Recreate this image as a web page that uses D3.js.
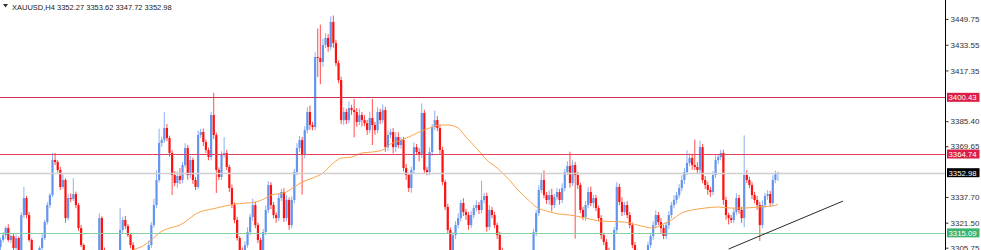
<!DOCTYPE html>
<html>
<head>
<meta charset="utf-8">
<script src="https://cdn.jsdelivr.net/npm/d3@7"></script>
<style>
  html, body { margin: 0; padding: 0; background: #fff; }
  svg { display: block; font-family: "Liberation Sans", Arial, sans-serif; }
</style>
</head>
<body>
<svg id="chart" width="981" height="250"></svg>
<script>
// ---- data ----
var symbol = "XAUUSD,H4";
var firstOpen = 3306.0;

// closing price of every H4 bar (open = previous close)
var closes = [
  3310.6, 3313.7, 3318.1, 3310.6, 3313.1, 3305.5, 3311.8, 3301.1, 3326.3, 3337.0,
  3326.3, 3310.6, 3298.0, 3296.7, 3299.2, 3305.5, 3311.8, 3321.9, 3332.6, 3338.9,
  3361.0, 3359.7, 3354.7, 3344.0, 3348.4, 3324.4, 3337.0, 3336.4, 3339.5, 3332.6,
  3318.1, 3307.4, 3299.2, 3296.7, 3301.1, 3294.8, 3298.0, 3301.1, 3324.4, 3304.3,
  3299.2, 3296.7, 3294.8, 3296.7, 3299.2, 3301.1, 3316.9, 3323.2, 3319.4, 3313.7,
  3307.4, 3303.0, 3299.2, 3296.7, 3294.8, 3296.7, 3299.2, 3307.4, 3320.0, 3332.6,
  3348.4, 3371.7, 3373.5, 3381.1, 3374.8, 3365.4, 3351.5, 3346.5, 3350.9, 3348.4,
  3357.8, 3368.5, 3351.5, 3361.0, 3348.4, 3344.0, 3376.7, 3378.6, 3372.3, 3367.3,
  3362.8, 3389.3, 3376.7, 3354.7, 3350.3, 3364.1, 3365.4, 3356.6, 3343.3, 3332.6,
  3323.2, 3311.8, 3304.3, 3296.7, 3307.4, 3315.6, 3325.1, 3332.6, 3320.0, 3310.6,
  3304.3, 3315.6, 3329.5, 3345.2, 3332.6, 3326.3, 3324.4, 3337.0, 3340.8, 3324.4,
  3335.8, 3320.0, 3335.8, 3353.4, 3368.5, 3373.5, 3364.1, 3379.8, 3391.2, 3383.0,
  3381.7, 3425.8, 3425.2, 3422.7, 3433.4, 3437.8, 3432.1, 3447.9, 3434.6, 3422.0,
  3411.3, 3386.1, 3391.2, 3386.1, 3393.7, 3392.4, 3391.2, 3384.9, 3389.3, 3386.1,
  3384.2, 3379.8, 3387.4, 3383.0, 3379.8, 3391.2, 3386.1, 3392.4, 3369.1, 3376.7,
  3378.6, 3369.1, 3375.4, 3370.4, 3373.5, 3355.9, 3351.5, 3343.3, 3354.7, 3369.1,
  3366.0, 3364.1, 3390.6, 3354.7, 3353.4, 3366.0, 3381.7, 3386.1, 3381.1, 3367.3,
  3347.1, 3331.4, 3316.9, 3301.1, 3313.7, 3320.0, 3324.4, 3333.9, 3328.2, 3326.3,
  3320.0, 3326.3, 3330.7, 3332.6, 3329.5, 3335.8, 3338.3, 3318.8, 3329.5, 3326.3,
  3320.0, 3313.7, 3304.3, 3294.8, 3292.9, 3290.4, 3294.8, 3291.7, 3288.5, 3292.9,
  3296.7, 3291.7, 3294.8, 3298.0, 3301.1, 3315.6, 3327.6, 3342.1, 3348.4, 3338.9,
  3335.8, 3338.9, 3332.6, 3337.6, 3340.8, 3335.8, 3343.3, 3353.4, 3357.2, 3346.5,
  3357.8, 3351.5, 3345.2, 3329.5, 3325.1, 3332.6, 3340.8, 3333.9, 3337.0, 3330.7,
  3324.4, 3313.7, 3309.3, 3304.3, 3299.2, 3296.7, 3316.9, 3344.0, 3334.5, 3328.2,
  3332.6, 3326.3, 3320.0, 3307.4, 3303.0, 3299.2, 3296.7, 3299.2, 3301.1, 3307.4,
  3313.1, 3320.0, 3326.3, 3321.9, 3318.1, 3313.1, 3320.0, 3326.3, 3332.6, 3335.8,
  3338.9, 3343.3, 3348.4, 3353.4, 3359.1, 3362.2, 3357.8, 3356.6, 3354.7, 3369.1,
  3348.4, 3345.2, 3342.1, 3340.8, 3351.5, 3361.0, 3362.8, 3365.4, 3335.8, 3326.3,
  3324.4, 3323.2, 3328.2, 3337.0, 3329.5, 3324.4, 3351.5, 3348.4, 3345.2, 3338.9,
  3335.8, 3332.6, 3320.0, 3332.6, 3338.3, 3339.5, 3333.9, 3348.4, 3352.27, 3352.98
];

// wick above the body / below the body, in price units
var upperWick = [
  1.5, 2.0, 1.2, 2.4, 1.0, 1.8, 2.2, 1.0, 1.6, 7.0,
  1.4, 2.0, 1.0, 1.6, 2.2, 1.2, 3.0, 1.5, 2.0, 1.4,
  4.4, 4.4, 1.2, 2.0, 3.5, 1.0, 2.4, 3.0, 10.0, 1.6,
  1.2, 2.0, 1.0, 1.4, 2.6, 1.0, 1.8, 2.0, 3.0, 1.2,
  1.6, 1.0, 2.0, 1.4, 1.8, 2.2, 14.0, 2.0, 2.5, 1.4,
  1.2, 1.8, 1.0, 1.4, 2.0, 1.6, 2.4, 3.0, 2.0, 4.0,
  6.0, 9.0, 2.0, 10.0, 2.5, 1.5, 1.8, 2.4, 3.0, 5.0,
  2.0, 3.0, 2.0, 2.5, 1.5, 2.0, 3.0, 2.0, 2.2, 1.6,
  1.5, 2.0, 14.0, 1.5, 1.6, 2.4, 10.0, 2.0, 1.4, 2.2,
  1.6, 2.0, 1.2, 1.6, 2.4, 3.0, 2.0, 4.0, 2.0, 1.6,
  1.4, 2.0, 3.0, 2.5, 1.8, 2.0, 1.6, 3.0, 2.0, 2.5,
  3.0, 1.6, 2.2, 2.0, 3.0, 2.5, 2.0, 2.4, 3.0, 4.0,
  2.0, 3.0, 18.0, 21.0, 4.0, 3.0, 2.5, 3.5, 4.0, 2.0,
  1.5, 2.0, 3.0, 2.0, 4.0, 2.0, 7.0, 2.5, 4.0, 2.0,
  3.0, 2.0, 4.0, 12.0, 2.0, 3.0, 2.0, 3.5, 2.0, 3.0,
  2.0, 2.5, 3.0, 3.0, 2.0, 2.0, 2.5, 1.5, 2.0, 3.0,
  2.0, 2.5, 6.0, 2.0, 2.0, 3.0, 2.0, 6.0, 2.5, 2.0,
  2.0, 1.5, 2.0, 1.5, 2.0, 2.5, 3.0, 2.0, 3.0, 2.0,
  2.0, 2.5, 2.0, 3.0, 2.0, 12.0, 2.0, 2.0, 3.0, 2.0,
  2.0, 1.5, 2.0, 1.5, 2.0, 2.0, 2.0, 1.5, 2.0, 2.0,
  2.0, 2.0, 2.0, 2.0, 2.5, 2.0, 2.0, 3.0, 4.0, 6.0,
  2.0, 3.0, 4.0, 2.0, 2.5, 2.0, 3.0, 2.0, 3.0, 9.0,
  3.0, 2.0, 2.0, 1.5, 2.0, 2.5, 3.0, 3.5, 2.0, 2.0,
  1.5, 2.0, 1.5, 2.0, 1.5, 2.0, 2.0, 3.0, 2.0, 3.0,
  2.0, 2.5, 2.0, 1.5, 2.0, 1.5, 2.0, 2.0, 1.5, 2.0,
  2.0, 2.5, 3.0, 2.0, 2.5, 2.0, 2.0, 2.5, 2.0, 3.0,
  2.0, 2.5, 3.0, 2.5, 8.0, 3.0, 2.0, 16.0, 3.0, 4.0,
  2.0, 2.5, 2.0, 2.0, 2.5, 3.0, 2.0, 2.0, 2.0, 2.0,
  1.5, 2.0, 2.5, 3.0, 2.0, 2.0, 25.0, 3.0, 2.0, 2.0,
  2.0, 2.5, 2.0, 3.0, 2.0, 2.5, 2.0, 3.0, 2.0, 0.64
];
var lowerWick = [
  2.0, 1.5, 2.4, 1.2, 2.0, 1.6, 1.0, 2.2, 1.4, 1.8,
  2.0, 1.2, 1.6, 2.4, 1.0, 1.8, 2.0, 1.2, 1.6, 2.0,
  1.4, 2.0, 1.6, 2.0, 1.2, 3.0, 1.6, 2.0, 1.4, 2.0,
  1.8, 1.2, 2.0, 1.6, 1.4, 2.2, 1.0, 1.8, 1.4, 2.0,
  1.2, 2.0, 1.6, 1.4, 2.0, 1.0, 1.6, 1.8, 2.0, 1.2,
  2.0, 1.4, 1.8, 1.2, 2.0, 1.6, 1.4, 2.0, 1.8, 1.6,
  2.0, 1.5, 2.5, 1.8, 2.0, 2.4, 12.6, 2.0, 3.0, 2.5,
  2.0, 1.6, 3.0, 2.0, 2.5, 2.0, 1.6, 2.0, 2.5, 2.0,
  2.0, 2.0, 2.5, 14.5, 2.0, 2.0, 1.6, 2.0, 2.5, 2.0,
  2.0, 1.6, 2.0, 2.5, 2.0, 1.6, 2.0, 2.5, 2.0, 2.0,
  2.5, 2.0, 2.0, 2.0, 2.5, 2.0, 3.0, 2.0, 2.0, 2.5,
  2.0, 3.0, 2.0, 2.0, 2.0, 2.5, 25.0, 2.0, 2.0, 3.0,
  2.0, 2.0, 12.0, 14.0, 3.0, 2.0, 3.0, 2.0, 3.0, 2.0,
  2.0, 2.5, 3.0, 2.5, 2.0, 3.0, 16.0, 3.0, 2.0, 4.0,
  2.0, 3.0, 2.0, 12.6, 3.0, 2.0, 2.5, 2.0, 3.0, 2.5,
  2.0, 4.0, 3.0, 2.0, 2.5, 2.0, 3.0, 2.5, 3.0, 2.0,
  2.0, 4.0, 2.0, 2.5, 2.0, 2.0, 2.5, 2.0, 2.0, 2.5,
  2.0, 2.0, 2.5, 3.0, 2.0, 2.5, 2.0, 2.0, 2.5, 3.0,
  3.0, 2.0, 2.0, 2.0, 2.5, 2.0, 2.0, 3.0, 2.0, 2.0,
  2.0, 2.5, 2.0, 2.0, 2.0, 2.0, 2.5, 2.0, 2.0, 2.0,
  2.0, 2.0, 2.5, 2.0, 2.0, 2.0, 2.5, 2.0, 2.0, 2.0,
  2.5, 3.0, 4.0, 2.0, 2.0, 3.0, 2.0, 2.0, 2.0, 3.0,
  2.0, 40.0, 2.5, 2.0, 2.0, 2.5, 2.0, 2.0, 3.0, 2.0,
  2.0, 2.5, 2.0, 2.0, 2.0, 2.5, 3.0, 2.0, 2.0, 2.5,
  2.0, 2.0, 2.0, 2.0, 2.5, 2.0, 2.0, 2.0, 2.5, 2.0,
  2.0, 2.5, 2.0, 2.0, 3.0, 2.0, 2.0, 2.5, 2.0, 2.0,
  2.5, 2.0, 2.0, 2.5, 2.0, 2.0, 3.0, 2.0, 2.5, 2.0,
  2.0, 2.5, 3.0, 3.0, 2.0, 2.0, 2.5, 2.0, 3.0, 3.0,
  4.0, 2.0, 2.0, 2.0, 2.5, 3.0, 5.7, 2.0, 2.0, 2.5,
  2.0, 3.0, 10.0, 2.0, 2.0, 2.5, 2.0, 2.0, 2.0, 4.55
];

// moving average (orange) sampled at these bars
var maBars = [48, 51, 54, 58, 61, 65, 69, 72, 75, 83, 90, 98, 102, 104, 109, 113, 116, 120,
  124, 128, 131, 135, 139, 143, 147, 150, 154, 157, 161, 165, 169, 172, 176, 179, 183, 187,
  191, 195, 199, 203, 206, 210, 215, 219, 225, 231, 240, 245, 251, 254, 258, 262, 266, 271,
  276, 281, 286, 291, 297, 299];
var maValues = [3301.1, 3304.3, 3306.2, 3310.6, 3315.0, 3318.1, 3320.0, 3323.2, 3326.9, 3330.7,
  3333.2, 3334.5, 3337.0, 3338.9, 3340.2, 3344.0, 3347.1, 3349.6, 3352.8, 3359.1, 3362.2,
  3362.8, 3365.4, 3366.0, 3367.3, 3371.0, 3373.5, 3375.4, 3378.6, 3381.1, 3383.0, 3383.0,
  3381.1, 3375.4, 3368.5, 3361.0, 3355.9, 3349.6, 3342.1, 3335.8, 3331.4, 3328.8, 3326.9,
  3326.3, 3324.4, 3322.5, 3321.9, 3320.0, 3318.1, 3320.0, 3323.2, 3327.6, 3329.5, 3330.7,
  3331.4, 3330.7, 3330.7, 3331.4, 3332.0, 3333.2];

// horizontal levels: resistance, resistance, current bid, support
var levelPrices = [3400.43, 3364.74, 3352.98, 3315.09];
var tickValues = [3449.75, 3433.55, 3417.35, 3385.40, 3369.65, 3337.70, 3321.50, 3305.75];

// trend line anchors (bar index, price)
var trendBars = [280, 324];
var trendPrices = [3304.9, 3335.1];

// ---- drawing ----
var width = 981, height = 250, axisX = 945.5;
var svg = d3.select("#chart");

var x = d3.scaleLinear().domain([0, closes.length - 1]).range([0.5, 778]);
var y = d3.scaleLinear().domain([3305.75, 3449.75]).range([247.7, 19]);

var bars = closes.map(function(c, i) {
  var o = i === 0 ? firstOpen : closes[i - 1];
  return {
    i: i, o: o, c: c,
    h: Math.max(o, c) + upperWick[i],
    l: Math.min(o, c) - lowerWick[i]
  };
});

svg.append("defs").append("clipPath").attr("id", "plot")
  .append("rect").attr("x", 0).attr("y", 0).attr("width", axisX).attr("height", height);

var plot = svg.append("g").attr("clip-path", "url(#plot)");

var bullColor = "#6495ed", bearColor = "#ff1010";
function barColor(d) { return d.c >= d.o ? bullColor : bearColor; }

var candle = plot.selectAll(".candle").data(bars).enter().append("g").attr("class", "candle");

candle.append("line")
  .attr("x1", function(d) { return x(d.i); })
  .attr("x2", function(d) { return x(d.i); })
  .attr("y1", function(d) { return y(d.h); })
  .attr("y2", function(d) { return y(d.l); })
  .style("stroke", barColor)
  .style("stroke-width", 1)
  .style("stroke-opacity", 0.75);

candle.append("rect")
  .attr("x", function(d) { return x(d.i) - 1.1; })
  .attr("width", 2.2)
  .attr("y", function(d) { return y(Math.max(d.o, d.c)); })
  .attr("height", function(d) { return Math.max(1, Math.abs(y(d.o) - y(d.c))); })
  .style("fill", barColor);

// moving average
var maLine = d3.line()
  .x(function(d) { return x(d[0]); })
  .y(function(d) { return y(d[1]); })
  .curve(d3.curveMonotoneX);

plot.append("path")
  .datum(maBars.map(function(b, k) { return [b, maValues[k]]; }))
  .attr("d", maLine)
  .style("fill", "none")
  .style("stroke", "#f8a548")
  .style("stroke-width", 1);

// horizontal levels
var levelLine = ["#c83450", "#e5405c", "#cfcfcf", "#86d19e"];
var levelBox = ["#dc1e46", "#dc1e46", "#000000", "#3cb36e"];

plot.selectAll(".level").data(levelPrices).enter().append("line")
  .attr("class", "level")
  .attr("x1", 0).attr("x2", axisX)
  .attr("y1", function(d) { return Math.round(y(d)) + 0.5; })
  .attr("y2", function(d) { return Math.round(y(d)) + 0.5; })
  .style("stroke", function(d, i) { return levelLine[i]; })
  .style("stroke-width", function(d, i) { return i === 2 ? 1.4 : 1.2; });

// trend line
plot.append("line")
  .attr("x1", x(trendBars[0])).attr("y1", y(trendPrices[0]))
  .attr("x2", x(trendBars[1])).attr("y2", y(trendPrices[1]))
  .style("stroke", "#2a2a2a")
  .style("stroke-width", 1);

// price axis
var axis = d3.axisRight(y)
  .tickValues(tickValues)
  .tickSize(3)
  .tickPadding(2)
  .tickFormat(d3.format(".2f"));

var gAxis = svg.append("g")
  .attr("transform", "translate(" + axisX + ",0)")
  .call(axis);
gAxis.select(".domain").remove();
gAxis.selectAll("line").style("stroke", "#333");
gAxis.selectAll("text")
  .style("font-family", "Liberation Sans, Arial, sans-serif")
  .style("font-size", "8px")
  .style("fill", "#333");

svg.append("line")
  .attr("x1", axisX).attr("x2", axisX).attr("y1", 0).attr("y2", height)
  .style("stroke", "#000").style("stroke-width", 1);

// level labels on the axis
var tag = svg.selectAll(".tag").data(levelPrices).enter().append("g").attr("class", "tag");
tag.append("rect")
  .attr("x", axisX + 1.5)
  .attr("y", function(d) { return y(d) - 4.5; })
  .attr("width", 32.5)
  .attr("height", 9)
  .style("fill", function(d, i) { return levelBox[i]; });
tag.append("text")
  .attr("x", axisX + 3)
  .attr("y", function(d) { return y(d) + 3; })
  .text(function(d) { return d3.format(".2f")(d); })
  .style("font-size", "7.8px")
  .style("fill", "#fff");

// header
var last = bars[bars.length - 1];
svg.append("path")
  .attr("d", "M3,4 L8,4 L5.5,7.5 Z")
  .style("fill", "#333");
svg.append("text")
  .attr("x", 12).attr("y", 9.5)
  .style("font-size", "7.5px")
  .style("fill", "#222")
  .text(symbol + "  " + [last.o, last.h, last.l, last.c].map(d3.format(".2f")).join(" "));
</script>
</body>
</html>
